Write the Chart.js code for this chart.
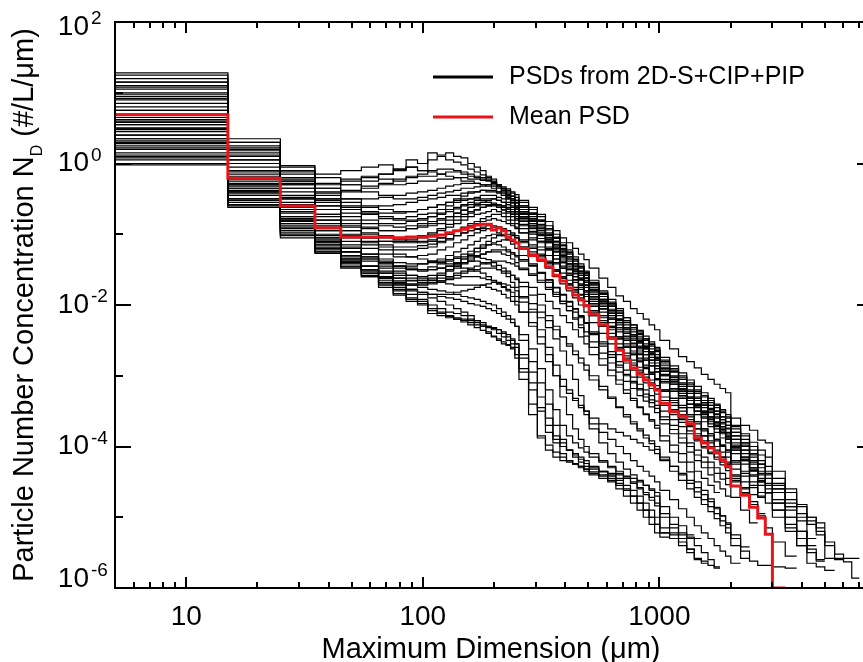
<!DOCTYPE html>
<html>
<head>
<meta charset="utf-8">
<script src="https://cdn.jsdelivr.net/npm/chart.js@4.4.1/dist/chart.umd.min.js"></script>
<style>
    html, body { margin: 0; padding: 0; background: #fff; overflow: hidden; }
    #wrap { width: 863px; height: 662px; overflow: hidden; }
    canvas { display: block; }
</style>
</head>
<body>
<div id="wrap"><canvas id="psdChart" width="880" height="662"></canvas></div>
<script>
// Bin edges of the composite 2D-S + CIP + PIP size distribution (µm)
const binEdges = [5, 15, 25, 35, 45, 55, 65, 75, 85, 95, 105, 115, 125, 135, 145, 155, 165, 175, 185, 195,
    205, 215, 225, 235, 245, 255, 280, 305, 330, 355, 380, 405, 430, 455, 480, 505, 555, 605, 655, 705,
    755, 805, 855, 905, 955, 1005, 1105, 1205, 1305, 1405, 1505, 1605, 1705, 1805, 1905, 2005, 2205, 2405, 2605, 2805,
    3005, 3405, 3805, 4205, 4605, 5005, 5505, 6005, 6505, 7005];

// log10 of N(D) in #/L/µm, one value per bin starting at the first bin
const meanPsdLog = [
    0.69, -0.21, -0.60, -0.91, -1.04, -1.04, -1.04, -1.05, -1.04, -1.04,
    -1.03, -1.01, -0.98, -0.95, -0.93, -0.90, -0.87, -0.86, -0.86, -0.94,
    -0.91, -0.95, -1.04, -1.08, -1.12, -1.20, -1.30, -1.36, -1.46, -1.58,
    -1.66, -1.76, -1.86, -1.93, -2.01, -2.13, -2.28, -2.47, -2.64, -2.78,
    -2.89, -2.98, -3.06, -3.13, -3.20, -3.39, -3.51, -3.57, -3.68, -3.88,
    -3.95, -4.02, -4.09, -4.19, -4.28, -4.56, -4.69, -4.86, -5.01, -5.24,
    -6.00];

const psdLog01 = [
    1.20, 0.30, -0.05, -0.15, -0.10, -0.05, -0.02, -0.08, -0.05, -0.10,
    -0.12, -0.15, -0.18, -0.20, -0.20, -0.22, -0.22, -0.24, -0.25, -0.27,
    -0.30, -0.33, -0.36, -0.40, -0.44, -0.52, -0.62, -0.72, -0.82, -0.95,
    -1.05, -1.12, -1.20, -1.28, -1.36, -1.48, -1.62, -1.75, -1.87, -1.95,
    -2.05, -2.12, -2.20, -2.28, -2.35, -2.50, -2.62, -2.73, -2.80, -2.89,
    -2.98, -3.05, -3.12, -3.18, -3.24, -3.60, -3.70, -3.77, -3.91, -3.95,
    -4.52, -4.80, -5.00, -5.00, -5.08, -5.58, -5.58, -5.58, -5.58];
const psdLog02 = [
    1.05, 0.20, -0.15, -0.30, -0.25, -0.20, -0.15, -0.10, -0.05, -0.10,
    0.15, 0.12, 0.15, 0.10, 0.08, 0.00, -0.05, -0.10, -0.18, -0.22,
    -0.30, -0.36, -0.45, -0.52, -0.60, -0.70, -0.80, -0.92, -1.05, -1.18,
    -1.30, -1.42, -1.52, -1.62, -1.72, -1.85, -2.00, -2.15, -2.28, -2.40,
    -2.50, -2.60, -2.70, -2.78, -2.86, -3.00, -3.12, -3.25, -3.35, -3.45,
    -3.55, -3.62, -3.70, -3.80, -3.88, -4.05, -4.20, -4.40, -4.55];
const psdLog03 = [
    0.95, 0.10, -0.25, -0.35, -0.30, -0.25, -0.15, -0.08, 0.05, 0.00,
    0.05, 0.10, 0.05, 0.02, -0.02, -0.08, -0.12, -0.16, -0.20, -0.25,
    -0.33, -0.40, -0.48, -0.56, -0.64, -0.75, -0.88, -1.00, -1.12, -1.25,
    -1.38, -1.50, -1.60, -1.72, -1.82, -1.98, -2.15, -2.30, -2.45, -2.55,
    -2.65, -2.75, -2.85, -2.95, -3.05, -3.22, -3.38, -3.50, -3.62, -3.75,
    -3.85, -3.95, -4.05, -4.15, -4.25, -4.45, -4.65];
const psdLog04 = [
    1.10, 0.15, -0.20, -0.45, -0.40, -0.35, -0.30, -0.30, -0.28, -0.25,
    -0.25, -0.22, -0.22, -0.20, -0.25, -0.25, -0.28, -0.30, -0.30, -0.32,
    -0.35, -0.38, -0.42, -0.46, -0.52, -0.60, -0.70, -0.80, -0.92, -1.05,
    -1.15, -1.25, -1.35, -1.45, -1.55, -1.70, -1.85, -2.00, -2.12, -2.25,
    -2.35, -2.45, -2.55, -2.62, -2.70, -2.85, -2.95, -3.05, -3.15, -3.25,
    -3.35, -3.42, -3.50, -3.58, -3.65, -3.80, -3.95, -4.10, -4.25, -4.40,
    -4.60, -4.85];
const psdLog05 = [
    1.25, 0.35, -0.03, -0.20, -0.30, -0.40, -0.45, -0.50, -0.50, -0.48,
    -0.45, -0.42, -0.40, -0.38, -0.35, -0.35, -0.33, -0.32, -0.30, -0.30,
    -0.32, -0.35, -0.38, -0.42, -0.48, -0.55, -0.65, -0.75, -0.88, -1.00,
    -1.12, -1.22, -1.32, -1.42, -1.52, -1.65, -1.80, -1.92, -2.05, -2.18,
    -2.28, -2.38, -2.48, -2.56, -2.64, -2.80, -2.92, -3.02, -3.12, -3.22,
    -3.30, -3.38, -3.45, -3.52, -3.60, -3.75, -3.90, -4.05, -4.20, -4.35,
    -4.60, -4.85, -5.05, -5.30];
const psdLog06 = [
    0.85, 0.05, -0.30, -0.55, -0.60, -0.62, -0.60, -0.58, -0.55, -0.52,
    -0.50, -0.48, -0.45, -0.45, -0.42, -0.40, -0.40, -0.38, -0.40, -0.40,
    -0.42, -0.45, -0.50, -0.55, -0.60, -0.68, -0.78, -0.88, -1.00, -1.12,
    -1.22, -1.32, -1.42, -1.52, -1.62, -1.78, -1.92, -2.08, -2.20, -2.32,
    -2.42, -2.52, -2.60, -2.68, -2.76, -2.92, -3.05, -3.15, -3.25, -3.35,
    -3.45, -3.52, -3.60, -3.68, -3.75, -3.90, -4.05, -4.20, -4.35];
const psdLog07 = [
    1.15, 0.25, -0.10, -0.40, -0.55, -0.70, -0.75, -0.78, -0.75, -0.72,
    -0.70, -0.65, -0.60, -0.55, -0.52, -0.50, -0.48, -0.45, -0.45, -0.45,
    -0.48, -0.50, -0.55, -0.60, -0.65, -0.72, -0.82, -0.92, -1.02, -1.15,
    -1.25, -1.35, -1.45, -1.55, -1.65, -1.80, -1.95, -2.12, -2.25, -2.38,
    -2.48, -2.58, -2.66, -2.74, -2.82, -2.98, -3.10, -3.20, -3.30, -3.40,
    -3.50, -3.58, -3.65, -3.72, -3.80, -3.95, -4.10, -4.25, -4.40, -4.55,
    -4.80];
const psdLog08 = [
    0.75, -0.10, -0.40, -0.60, -0.70, -0.80, -0.85, -0.85, -0.82, -0.80,
    -0.75, -0.70, -0.65, -0.62, -0.58, -0.55, -0.52, -0.50, -0.50, -0.50,
    -0.52, -0.55, -0.58, -0.62, -0.68, -0.75, -0.85, -0.95, -1.08, -1.20,
    -1.32, -1.42, -1.52, -1.62, -1.72, -1.88, -2.02, -2.18, -2.32, -2.45,
    -2.55, -2.65, -2.75, -2.82, -2.90, -3.05, -3.18, -3.28, -3.40, -3.50,
    -3.58, -3.65, -3.72, -3.80, -3.88, -4.02, -4.18, -4.32, -4.48];
const psdLog09 = [
    0.90, 0.00, -0.35, -0.65, -0.80, -0.90, -0.95, -0.95, -0.92, -0.90,
    -0.88, -0.85, -0.80, -0.75, -0.72, -0.68, -0.65, -0.62, -0.60, -0.58,
    -0.60, -0.62, -0.65, -0.70, -0.75, -0.82, -0.92, -1.02, -1.12, -1.25,
    -1.35, -1.45, -1.55, -1.65, -1.75, -1.90, -2.05, -2.20, -2.35, -2.48,
    -2.58, -2.68, -2.78, -2.86, -2.95, -3.10, -3.22, -3.32, -3.45, -3.55,
    -3.65, -3.72, -3.80, -3.88, -3.95, -4.10, -4.25, -4.42];
const psdLog10 = [
    0.55, -0.20, -0.55, -0.80, -0.95, -1.05, -1.10, -1.10, -1.08, -1.05,
    -1.00, -0.95, -0.90, -0.85, -0.80, -0.75, -0.72, -0.70, -0.68, -0.65,
    -0.68, -0.70, -0.75, -0.80, -0.85, -0.92, -1.00, -1.10, -1.22, -1.35,
    -1.45, -1.55, -1.65, -1.75, -1.85, -2.00, -2.15, -2.30, -2.45, -2.58,
    -2.68, -2.78, -2.88, -2.96, -3.04, -3.20, -3.32, -3.42, -3.55, -3.65,
    -3.75, -3.82, -3.90, -3.98, -4.05, -4.22, -4.38, -4.55, -4.70];
const psdLog11 = [
    0.65, -0.15, -0.50, -0.75, -0.90, -1.00, -1.05, -1.08, -1.10, -1.12,
    -1.10, -1.05, -1.00, -0.95, -0.90, -0.85, -0.82, -0.78, -0.75, -0.72,
    -0.72, -0.75, -0.80, -0.85, -0.90, -0.98, -1.08, -1.18, -1.30, -1.42,
    -1.55, -1.65, -1.75, -1.85, -1.95, -2.10, -2.25, -2.40, -2.55, -2.68,
    -2.78, -2.88, -2.98, -3.06, -3.14, -3.30, -3.42, -3.55, -3.65, -3.75,
    -3.85, -3.92, -4.00, -4.08, -4.15, -4.32, -4.50, -4.68];
const psdLog12 = [
    0.40, -0.30, -0.70, -0.95, -1.10, -1.20, -1.28, -1.32, -1.32, -1.30,
    -1.28, -1.22, -1.18, -1.12, -1.08, -1.02, -0.98, -0.95, -0.92, -0.90,
    -0.90, -0.92, -0.95, -1.00, -1.05, -1.12, -1.20, -1.30, -1.40, -1.52,
    -1.62, -1.72, -1.82, -1.92, -2.02, -2.15, -2.30, -2.45, -2.60, -2.72,
    -2.82, -2.92, -3.02, -3.10, -3.18, -3.35, -3.48, -3.60, -3.70, -3.82,
    -3.92, -4.00, -4.08, -4.15, -4.22, -4.40, -4.58];
const psdLog13 = [
    0.30, -0.40, -0.80, -1.05, -1.20, -1.32, -1.40, -1.45, -1.45, -1.42,
    -1.38, -1.35, -1.30, -1.25, -1.20, -1.15, -1.10, -1.05, -1.02, -1.00,
    -1.00, -1.02, -1.05, -1.08, -1.12, -1.18, -1.28, -1.38, -1.48, -1.60,
    -1.70, -1.80, -1.90, -2.00, -2.10, -2.25, -2.40, -2.55, -2.70, -2.82,
    -2.92, -3.02, -3.10, -3.18, -3.26, -3.42, -3.55, -3.66, -3.78, -3.90,
    -4.00, -4.08, -4.15, -4.22, -4.30, -4.48];
const psdLog14 = [
    0.20, -0.45, -0.85, -1.12, -1.30, -1.45, -1.55, -1.62, -1.65, -1.65,
    -1.62, -1.58, -1.52, -1.48, -1.42, -1.38, -1.32, -1.28, -1.25, -1.22,
    -1.22, -1.22, -1.25, -1.28, -1.32, -1.38, -1.45, -1.55, -1.65, -1.75,
    -1.85, -1.95, -2.05, -2.15, -2.25, -2.40, -2.55, -2.70, -2.85, -2.98,
    -3.08, -3.18, -3.26, -3.34, -3.42, -3.58, -3.70, -3.82, -3.95, -4.05,
    -4.15, -4.22, -4.30, -4.38, -4.45];
const psdLog15 = [
    0.45, -0.35, -0.75, -1.10, -1.35, -1.50, -1.62, -1.70, -1.72, -1.70,
    -1.65, -1.58, -1.50, -1.42, -1.35, -1.28, -1.20, -1.15, -1.10, -1.05,
    -1.02, -1.00, -1.00, -1.02, -1.05, -1.10, -1.18, -1.28, -1.38, -1.50,
    -1.60, -1.70, -1.80, -1.90, -2.00, -2.15, -2.30, -2.48, -2.62, -2.75,
    -2.85, -2.95, -3.05, -3.12, -3.20, -3.38, -3.50, -3.62, -3.72, -3.85,
    -3.95, -4.02, -4.10, -4.18, -4.25, -4.42, -4.60, -4.78, -4.95];
const psdLog16 = [
    0.10, -0.55, -1.00, -1.25, -1.45, -1.58, -1.70, -1.80, -1.90, -1.95,
    -2.05, -2.10, -2.15, -2.18, -2.20, -2.22, -2.25, -2.28, -2.30, -2.32,
    -2.35, -2.40, -2.45, -2.50, -2.55, -2.95, -3.40, -3.88, -4.05, -4.15,
    -4.20, -4.22, -4.25, -4.30, -4.35, -4.40, -4.45, -4.50, -4.60, -4.70,
    -4.80, -4.90, -5.00, -5.10, -5.22, -5.28];
const psdLog17 = [
    0.25, -0.50, -0.95, -1.20, -1.40, -1.55, -1.68, -1.78, -1.85, -1.92,
    -2.00, -2.05, -2.10, -2.12, -2.15, -2.20, -2.22, -2.25, -2.30, -2.35,
    -2.40, -2.45, -2.50, -2.55, -2.60, -2.70, -2.95, -3.30, -3.60, -3.90,
    -4.10, -4.20, -4.24, -4.28, -4.32, -4.38, -4.42, -4.48, -4.55, -4.62,
    -4.70, -4.80, -4.90, -5.00, -5.10, -5.22, -5.30, -5.40, -5.50];
const psdLog18 = [
    0.50, -0.30, -0.80, -1.15, -1.40, -1.55, -1.65, -1.75, -1.80, -1.85,
    -1.90, -1.95, -2.00, -2.05, -2.10, -2.15, -2.22, -2.30, -2.38, -2.45,
    -2.50, -2.55, -2.57, -2.60, -2.70, -2.90, -3.20, -3.50, -3.80, -3.95,
    -4.00, -4.05, -4.10, -4.15, -4.20, -4.28, -4.35, -4.40, -4.45, -4.55,
    -4.62, -4.70, -4.80, -4.90, -5.00, -5.15, -5.25, -5.35, -5.45, -5.60,
    -5.65];
const psdLog19 = [
    0.35, -0.40, -0.85, -1.10, -1.25, -1.35, -1.45, -1.52, -1.58, -1.62,
    -1.65, -1.68, -1.70, -1.72, -1.72, -1.72, -1.72, -1.72, -1.75, -1.78,
    -1.80, -1.85, -1.90, -1.95, -2.00, -2.10, -2.25, -2.45, -2.70, -3.00,
    -3.30, -3.55, -3.75, -3.90, -4.00, -4.10, -4.20, -4.28, -4.35, -4.42,
    -4.50, -4.58, -4.65, -4.72, -4.80, -4.95, -5.10, -5.22, -5.30, -5.40,
    -5.50, -5.60, -5.70];
const psdLog20 = [
    0.60, -0.25, -0.65, -0.95, -1.15, -1.28, -1.38, -1.45, -1.50, -1.52,
    -1.50, -1.48, -1.45, -1.42, -1.40, -1.38, -1.38, -1.40, -1.42, -1.45,
    -1.50, -1.55, -1.60, -1.68, -1.75, -1.90, -2.10, -2.35, -2.60, -2.85,
    -3.05, -3.20, -3.32, -3.42, -3.50, -3.60, -3.68, -3.75, -3.80, -3.85,
    -3.90, -3.95, -4.00, -4.05, -4.10, -4.18, -4.28, -4.38, -4.48, -4.58,
    -4.68, -4.78, -4.88, -4.98, -5.08, -5.25, -5.42];
const psdLog21 = [
    0.15, -0.50, -0.90, -1.20, -1.38, -1.50, -1.60, -1.68, -1.72, -1.75,
    -1.78, -1.80, -1.82, -1.85, -1.88, -1.90, -1.92, -1.95, -1.98, -2.00,
    -2.05, -2.10, -2.15, -2.20, -2.30, -2.50, -2.80, -3.10, -3.40, -3.70,
    -3.90, -4.05, -4.15, -4.22, -4.28, -4.32, -4.35, -4.38, -4.40, -4.43,
    -4.45, -4.50, -4.55, -4.60, -4.65, -5.22, -5.22, -5.25, -5.28, -5.30];
const psdLog22 = [
    0.70, -0.10, -0.50, -0.80, -0.95, -1.05, -1.10, -1.12, -1.12, -1.10,
    -1.08, -1.05, -1.00, -0.96, -0.92, -0.88, -0.85, -0.82, -0.80, -0.78,
    -0.80, -0.82, -0.85, -0.88, -0.92, -0.98, -1.05, -1.12, -1.20, -1.30,
    -1.40, -1.48, -1.56, -1.64, -1.72, -1.85, -1.98, -2.12, -2.25, -2.35,
    -2.45, -2.52, -2.60, -2.68, -2.75, -2.90, -3.02, -3.12, -3.22, -3.32,
    -3.40, -3.48, -3.55, -3.62, -3.70, -3.85, -3.98, -4.12, -4.25, -4.38,
    -4.55, -4.75, -4.95, -5.10, -5.25, -5.40, -5.60];
const psdLog23 = [
    1.00, 0.10, -0.30, -0.60, -0.75, -0.85, -0.88, -0.90, -0.88, -0.85,
    -0.82, -0.78, -0.75, -0.70, -0.66, -0.62, -0.58, -0.55, -0.52, -0.50,
    -0.52, -0.55, -0.58, -0.62, -0.68, -0.76, -0.85, -0.95, -1.05, -1.15,
    -1.25, -1.35, -1.45, -1.55, -1.62, -1.75, -1.88, -2.00, -2.12, -2.22,
    -2.32, -2.40, -2.48, -2.55, -2.62, -2.78, -2.90, -3.00, -3.10, -3.20,
    -3.28, -3.35, -3.42, -3.50, -3.58, -3.72, -3.85, -4.00, -4.12, -4.28,
    -4.45, -4.65, -4.85, -5.05, -5.20, -5.35, -5.52, -5.63, -5.86];
const psdLog24 = [
    0.05, -0.60, -0.95, -1.20, -1.35, -1.45, -1.52, -1.58, -1.62, -1.65,
    -1.65, -1.62, -1.60, -1.55, -1.52, -1.48, -1.45, -1.42, -1.40, -1.38,
    -1.38, -1.38, -1.40, -1.42, -1.45, -1.50, -1.58, -1.68, -1.78, -1.88,
    -1.98, -2.08, -2.18, -2.28, -2.38, -2.52, -2.68, -2.82, -2.95, -3.08,
    -3.18, -3.28, -3.36, -3.44, -3.52, -3.68, -3.82, -3.95, -4.08, -4.20,
    -4.30, -4.40, -4.50, -4.60, -4.70];
const psdLog25 = [
    0.80, 0.00, -0.35, -0.50, -0.50, -0.50, -0.48, -0.45, -0.42, -0.40,
    -0.38, -0.35, -0.32, -0.30, -0.28, -0.28, -0.28, -0.30, -0.32, -0.35,
    -0.40, -0.45, -0.50, -0.55, -0.62, -0.70, -0.80, -0.90, -1.00, -1.10,
    -1.20, -1.28, -1.38, -1.48, -1.58, -1.72, -1.88, -2.02, -2.15, -2.28,
    -2.38, -2.48, -2.58, -2.66, -2.74, -2.90, -3.02, -3.12, -3.22, -3.32,
    -3.42, -3.50, -3.58, -3.66, -3.74, -3.90, -4.05, -4.22, -4.38, -4.52,
    -4.75, -5.00, -5.20, -5.45, -5.60];
const psdLog26 = [
    0.55, -0.20, -0.60, -0.90, -1.05, -1.15, -1.22, -1.28, -1.32, -1.35,
    -1.38, -1.40, -1.42, -1.45, -1.48, -1.50, -1.52, -1.55, -1.60, -1.65,
    -1.70, -1.75, -1.80, -1.88, -1.95, -2.10, -2.30, -2.55, -2.80, -3.00,
    -3.15, -3.25, -3.35, -3.45, -3.55, -3.68, -3.80, -3.90, -4.00, -4.10,
    -4.20, -4.28, -4.35, -4.42, -4.50, -4.62, -4.75, -4.88, -5.00, -5.12,
    -5.22, -5.30, -5.40, -5.48, -5.55, -5.65];
const psdLog27 = [
    -0.02, -0.62, -1.05, -1.27, -1.48, -1.60, -1.75, -1.86, -1.95, -2.00,
    -2.12, -2.15, -2.18, -2.20, -2.22, -2.25, -2.28, -2.30, -2.32, -2.33,
    -2.35, -2.38, -2.42, -2.48, -2.55, -2.75, -3.10, -3.45, -3.70, -3.85,
    -3.95, -4.05, -4.12, -4.18, -4.24, -4.30, -4.36, -4.42, -4.48];
const psdLog28 = [
    1.28, 0.30, -0.10, -0.35, -0.50, -0.60, -0.65, -0.68, -0.68, -0.65,
    -0.62, -0.58, -0.55, -0.52, -0.50, -0.50, -0.50, -0.52, -0.55, -0.58,
    -0.62, -0.66, -0.70, -0.75, -0.80, -0.88, -0.98, -1.10, -1.22, -1.35,
    -1.48, -1.58, -1.68, -1.78, -1.88, -2.02, -2.18, -2.32, -2.48, -2.60,
    -2.70, -2.80, -2.90, -2.98, -3.06, -3.22, -3.35, -3.45, -3.58, -3.68,
    -3.78, -3.85, -3.92, -4.00, -4.08, -4.25, -4.42, -4.58, -4.72];
const psdLog29 = [
    0.50, -0.28, -0.68, -1.00, -1.20, -1.32, -1.40, -1.45, -1.48, -1.50,
    -1.50, -1.48, -1.45, -1.40, -1.35, -1.30, -1.25, -1.20, -1.15, -1.12,
    -1.10, -1.08, -1.08, -1.10, -1.12, -1.18, -1.25, -1.32, -1.42, -1.52,
    -1.62, -1.70, -1.78, -1.86, -1.95, -2.08, -2.22, -2.35, -2.48, -2.60,
    -2.70, -2.80, -2.88, -2.96, -3.04, -3.20, -3.32, -3.45, -3.55, -3.65,
    -3.75, -3.82, -3.90, -3.98, -4.05, -4.20, -4.35, -4.50, -4.65, -4.80,
    -5.00, -5.20, -5.40, -5.65, -5.70, -5.75];
const psdLog30 = [
    0.00, -0.58, -0.98, -1.22, -1.42, -1.52, -1.60, -1.66, -1.70, -1.72,
    -1.70, -1.66, -1.62, -1.58, -1.55, -1.52, -1.50, -1.48, -1.48, -1.48,
    -1.50, -1.52, -1.55, -1.58, -1.62, -1.68, -1.75, -1.85, -1.95, -2.05,
    -2.15, -2.25, -2.35, -2.45, -2.55, -2.70, -2.85, -3.00, -3.12, -3.25,
    -3.35, -3.45, -3.55, -3.62, -3.70, -3.85, -3.98, -4.10, -4.22, -4.35,
    -4.45, -4.55, -4.65];
const psdLog31 = [
    1.15, 0.22, -0.12, -0.28, -0.22, -0.18, -0.22, -0.25, -0.20, -0.18,
    -0.18, -0.15, -0.12, -0.12, -0.15, -0.18, -0.20, -0.22, -0.24, -0.28,
    -0.32, -0.38, -0.44, -0.50, -0.56, -0.65, -0.75, -0.86, -0.98, -1.10,
    -1.22, -1.32, -1.42, -1.52, -1.62, -1.78, -1.92, -2.06, -2.20, -2.32,
    -2.42, -2.52, -2.62, -2.70, -2.78, -2.94, -3.06, -3.18, -3.30, -3.40,
    -3.50, -3.58, -3.66, -3.74, -3.82, -3.98, -4.15, -4.30];
const psdLog32 = [
    0.35, -0.35, -0.75, -1.05, -1.25, -1.38, -1.48, -1.55, -1.58, -1.60,
    -1.58, -1.55, -1.50, -1.45, -1.40, -1.35, -1.30, -1.28, -1.25, -1.25,
    -1.25, -1.28, -1.30, -1.35, -1.40, -1.48, -1.56, -1.65, -1.75, -1.85,
    -1.95, -2.02, -2.10, -2.18, -2.26, -2.38, -2.52, -2.66, -2.80, -2.92,
    -3.02, -3.12, -3.20, -3.28, -3.36, -3.50, -3.62, -3.72, -3.82, -3.92,
    -4.02, -4.10, -4.18, -4.26, -4.34, -4.50, -4.66, -4.82, -4.98, -5.15,
    -5.35, -5.55];
const psdLog33 = [
    0.48, -0.22, -0.62, -0.88, -1.02, -1.12, -1.18, -1.22, -1.22, -1.20,
    -1.18, -1.12, -1.08, -1.02, -0.98, -0.95, -0.92, -0.90, -0.88, -0.88,
    -0.90, -0.92, -0.95, -0.98, -1.02, -1.08, -1.15, -1.22, -1.30, -1.40,
    -1.48, -1.56, -1.64, -1.72, -1.80, -1.92, -2.06, -2.20, -2.32, -2.44,
    -2.54, -2.62, -2.70, -2.78, -2.86, -3.00, -3.12, -3.22, -3.32, -3.42,
    -3.52, -3.60, -3.68, -3.76, -3.84, -4.00, -4.15, -4.30, -4.45, -4.60,
    -4.80, -5.00, -5.20, -5.40];
const psdLog34 = [
    0.12, -0.52, -0.92, -1.18, -1.38, -1.50, -1.62, -1.70, -1.78, -1.82,
    -1.85, -1.85, -1.85, -1.82, -1.80, -1.78, -1.75, -1.72, -1.70, -1.68,
    -1.68, -1.70, -1.72, -1.75, -1.80, -1.88, -1.98, -2.10, -2.22, -2.35,
    -2.45, -2.55, -2.65, -2.75, -2.85, -3.00, -3.15, -3.30, -3.45, -3.58,
    -3.68, -3.78, -3.88, -3.96, -4.04, -4.20, -4.35, -4.48, -4.60, -4.72,
    -4.82, -4.92, -5.02, -5.12, -5.22, -5.40, -5.58];
const psdLog35 = [
    1.08, 0.18, -0.22, -0.50, -0.65, -0.72, -0.78, -0.80, -0.80, -0.78,
    -0.75, -0.72, -0.68, -0.64, -0.60, -0.58, -0.56, -0.55, -0.55, -0.56,
    -0.58, -0.60, -0.64, -0.68, -0.72, -0.80, -0.90, -1.00, -1.10, -1.22,
    -1.32, -1.42, -1.50, -1.58, -1.66, -1.80, -1.94, -2.08, -2.20, -2.32,
    -2.42, -2.50, -2.58, -2.66, -2.74, -2.88, -3.00, -3.10, -3.20, -3.30,
    -3.38, -3.46, -3.54, -3.62, -3.70, -3.85, -4.00, -4.15, -4.30, -4.45,
    -4.65, -4.90];
const psdLog36 = [
    0.22, -0.45, -0.88, -1.15, -1.32, -1.45, -1.55, -1.62, -1.66, -1.68,
    -1.68, -1.66, -1.64, -1.62, -1.60, -1.60, -1.60, -1.62, -1.64, -1.66,
    -1.70, -1.74, -1.78, -1.82, -1.88, -1.96, -2.06, -2.18, -2.32, -2.48,
    -2.65, -2.85, -3.05, -3.28, -3.50, -3.75, -3.95, -4.10, -4.22, -4.32,
    -4.40, -4.48, -4.55, -4.62, -4.70, -4.85, -5.00, -5.12, -5.25];
const psdLog37 = [
    0.62, -0.12, -0.48, -0.72, -0.85, -0.92, -0.95, -0.95, -0.92, -0.88,
    -0.85, -0.80, -0.75, -0.70, -0.66, -0.62, -0.60, -0.58, -0.58, -0.60,
    -0.62, -0.65, -0.68, -0.72, -0.78, -0.86, -0.96, -1.06, -1.18, -1.30,
    -1.40, -1.50, -1.60, -1.70, -1.80, -1.95, -2.10, -2.25, -2.38, -2.50,
    -2.60, -2.70, -2.78, -2.86, -2.94, -3.08, -3.20, -3.30, -3.40, -3.50,
    -3.60, -3.68, -3.75, -3.82, -3.90, -4.05, -4.20, -4.35, -4.50, -4.65,
    -4.90, -5.15, -5.40];
const psdLog38 = [
    0.28, -0.42, -0.82, -1.08, -1.25, -1.35, -1.42, -1.48, -1.50, -1.50,
    -1.46, -1.42, -1.38, -1.32, -1.28, -1.24, -1.20, -1.18, -1.15, -1.14,
    -1.15, -1.18, -1.22, -1.26, -1.30, -1.36, -1.44, -1.54, -1.64, -1.76,
    -1.86, -1.96, -2.06, -2.16, -2.26, -2.42, -2.58, -2.74, -2.88, -3.00,
    -3.10, -3.20, -3.30, -3.38, -3.46, -3.62, -3.76, -3.88, -4.00, -4.12,
    -4.22, -4.30, -4.38, -4.46, -4.54, -4.72, -4.90, -5.08];
const psdLog39 = [
    0.92, 0.05, -0.28, -0.52, -0.62, -0.68, -0.70, -0.70, -0.68, -0.65,
    -0.62, -0.58, -0.55, -0.50, -0.46, -0.42, -0.40, -0.38, -0.38, -0.38,
    -0.40, -0.42, -0.46, -0.50, -0.55, -0.62, -0.72, -0.82, -0.94, -1.06,
    -1.16, -1.26, -1.36, -1.46, -1.54, -1.68, -1.82, -1.96, -2.08, -2.18,
    -2.28, -2.36, -2.44, -2.52, -2.60, -2.74, -2.86, -2.96, -3.06, -3.15,
    -3.24, -3.32, -3.40, -3.48, -3.55, -3.70, -3.82, -3.94, -4.05, -4.15,
    -4.35, -4.60, -4.82, -5.00, -5.15];
const psdLog40 = [
    0.40, -0.32, -0.78, -1.12, -1.35, -1.50, -1.62, -1.72, -1.78, -1.82,
    -1.85, -1.88, -1.90, -1.92, -1.95, -1.98, -2.00, -2.02, -2.05, -2.08,
    -2.12, -2.16, -2.20, -2.25, -2.30, -2.42, -2.62, -2.90, -3.20, -3.48,
    -3.70, -3.85, -3.95, -4.02, -4.08, -4.15, -4.22, -4.30, -4.38, -4.45,
    -4.52, -4.60, -4.68, -4.76, -4.84, -5.00, -5.15, -5.30, -5.45, -5.58,
    -5.62, -5.68, -5.72];
const psdLog41 = [
    0.58, -0.18, -0.58, -0.85, -1.00, -1.10, -1.15, -1.18, -1.18, -1.16,
    -1.14, -1.10, -1.06, -1.02, -0.98, -0.95, -0.93, -0.92, -0.92, -0.94,
    -0.98, -1.02, -1.08, -1.14, -1.20, -1.30, -1.42, -1.55, -1.68, -1.82,
    -1.95, -2.08, -2.20, -2.32, -2.44, -2.60, -2.76, -2.92, -3.06, -3.20,
    -3.32, -3.44, -3.54, -3.64, -3.74, -3.92, -4.08, -4.22, -4.36, -4.50,
    -4.62, -4.74, -4.86, -4.98, -5.10, -5.30, -5.48, -5.62, -5.68, -5.68,
    -5.70, -5.72];
const psdLog42 = [
    0.32, -0.38, -0.78, -1.02, -1.18, -1.28, -1.35, -1.40, -1.42, -1.42,
    -1.40, -1.38, -1.36, -1.34, -1.32, -1.32, -1.32, -1.34, -1.36, -1.40,
    -1.44, -1.48, -1.52, -1.58, -1.64, -1.74, -1.86, -2.00, -2.15, -2.30,
    -2.45, -2.58, -2.70, -2.82, -2.92, -3.06, -3.20, -3.32, -3.44, -3.55,
    -3.65, -3.75, -3.84, -3.92, -4.00, -4.15, -4.28, -4.40, -4.52, -4.64,
    -4.75, -4.85, -4.95, -5.05, -5.15];
const psdLog43 = [
    0.98, 0.12, -0.25, -0.42, -0.38, -0.32, -0.28, -0.22, -0.18, -0.15,
    -0.10, -0.08, -0.08, -0.10, -0.12, -0.15, -0.18, -0.20, -0.22, -0.26,
    -0.30, -0.35, -0.40, -0.46, -0.52, -0.60, -0.70, -0.80, -0.92, -1.04,
    -1.16, -1.26, -1.36, -1.46, -1.56, -1.70, -1.84, -1.98, -2.10, -2.22,
    -2.32, -2.42, -2.50, -2.58, -2.66, -2.82, -2.94, -3.05, -3.15, -3.25,
    -3.35, -3.42, -3.50, -3.58, -3.65, -3.80, -3.95, -4.10];
const psdLog44 = [
    0.08, -0.58, -1.02, -1.25, -1.46, -1.60, -1.72, -1.84, -1.92, -1.98,
    -2.08, -2.12, -2.16, -2.20, -2.24, -2.28, -2.32, -2.36, -2.40, -2.44,
    -2.48, -2.52, -2.56, -2.62, -2.75, -3.05, -3.55, -3.85, -3.98, -4.08,
    -4.15, -4.20, -4.25, -4.28, -4.32, -4.36, -4.40, -4.45, -4.52, -4.60,
    -4.70, -4.80, -4.90, -5.00, -5.10];
const psdLog45 = [
    0.75, -0.05, -0.45, -0.72, -0.88, -0.98, -1.02, -1.05, -1.05, -1.02,
    -0.98, -0.92, -0.86, -0.80, -0.75, -0.70, -0.66, -0.62, -0.60, -0.58,
    -0.58, -0.60, -0.62, -0.65, -0.70, -0.78, -0.88, -0.98, -1.08, -1.18,
    -1.28, -1.38, -1.48, -1.58, -1.68, -1.82, -1.96, -2.10, -2.22, -2.34,
    -2.44, -2.54, -2.62, -2.70, -2.78, -2.94, -3.08, -3.20, -3.32, -3.44,
    -3.54, -3.62, -3.70, -3.78, -3.86, -4.02, -4.18, -4.34, -4.50, -4.66,
    -4.90, -5.10, -5.30, -5.50, -5.62];

const psdLogs = [psdLog01, psdLog02, psdLog03, psdLog04, psdLog05, psdLog06, psdLog07, psdLog08,
    psdLog09, psdLog10, psdLog11, psdLog12, psdLog13, psdLog14, psdLog15, psdLog16, psdLog17,
    psdLog18, psdLog19, psdLog20, psdLog21, psdLog22, psdLog23, psdLog24, psdLog25, psdLog26,
    psdLog27, psdLog28, psdLog29, psdLog30, psdLog31, psdLog32, psdLog33, psdLog34, psdLog35,
    psdLog36, psdLog37, psdLog38, psdLog39, psdLog40, psdLog41, psdLog42, psdLog43, psdLog44,
    psdLog45];

// Axis ticks
const xMajorTicks = [10, 100, 1000];
const xMinorTicks = [6, 7, 8, 9, 20, 30, 40, 50, 60, 70, 80, 90,
    200, 300, 400, 500, 600, 700, 800, 900, 2000, 3000, 4000, 5000, 6000, 7000];
const yMajorExps = [2, 0, -2, -4, -6];
const yMinorExps = [1, -1, -3, -5];

const legendLabels = ['PSDs from 2D-S+CIP+PIP', 'Mean PSD'];
const xTitle = 'Maximum Dimension (\u03bcm)';

const fontName = '"Liberation Sans", Arial, Helvetica, sans-serif';
const rojo = '#e8141a';

// turns per-bin log values into step points (one extra point closes the last bin)
function pasosPsd(valores) {
    const puntos = valores.map((v, i) => ({ x: binEdges[i], y: Math.pow(10, v) }));
    puntos.push({ x: binEdges[valores.length], y: Math.pow(10, valores[valores.length - 1]) });
    return puntos;
}

const ejesPlugin = {
    id: 'ejes',
    afterDatasetsDraw(chart) {
        const { ctx, chartArea: a, scales: { x, y } } = chart;
        ctx.save();
        ctx.strokeStyle = '#000';
        ctx.fillStyle = '#000';
        ctx.lineWidth = 2;
        ctx.strokeRect(a.left, a.top, a.right - a.left, a.bottom - a.top);

        const linea = (x1, y1, x2, y2) => {
            ctx.beginPath();
            ctx.moveTo(x1, y1);
            ctx.lineTo(x2, y2);
            ctx.stroke();
        };
        const tickX = (v, len) => {
            const px = Math.round(x.getPixelForValue(v));
            linea(px, a.bottom, px, a.bottom - len);
            linea(px, a.top, px, a.top + len);
        };
        const tickY = (v, len) => {
            const py = Math.round(y.getPixelForValue(v));
            linea(a.left, py, a.left + len, py);
            linea(a.right, py, a.right - len, py);
        };
        xMajorTicks.forEach(v => tickX(v, 11));
        xMinorTicks.forEach(v => tickX(v, 6));
        yMajorExps.forEach(e => tickY(Math.pow(10, e), 16));
        yMinorExps.forEach(e => tickY(Math.pow(10, e), 8));

        // x tick labels
        ctx.font = '28px ' + fontName;
        ctx.textAlign = 'center';
        ctx.textBaseline = 'middle';
        xMajorTicks.forEach(v => {
            ctx.fillText(String(v), x.getPixelForValue(v), a.bottom + 29);
        });

        // y tick labels 10^n
        yMajorExps.forEach(e => {
            let py = y.getPixelForValue(Math.pow(10, e));
            py = Math.min(Math.max(py, a.top + 5), a.bottom - 9);
            ctx.font = '28px ' + fontName;
            ctx.textAlign = 'right';
            ctx.textBaseline = 'middle';
            ctx.fillText('10', a.left - 26, py);
            ctx.font = '19px ' + fontName;
            ctx.textAlign = 'left';
            ctx.textBaseline = 'alphabetic';
            ctx.fillText(String(e), a.left - 24, py - 3);
        });

        // x title
        ctx.font = '29px ' + fontName;
        ctx.textAlign = 'center';
        ctx.textBaseline = 'alphabetic';
        ctx.fillText(xTitle, (a.left + a.right) / 2 - 3, 658);

        // y title with subscript D
        const parte1 = 'Particle Number Concentration N';
        const parte2 = 'D';
        const parte3 = ' (#/L/\u03bcm)';
        ctx.font = '29px ' + fontName;
        const w1 = ctx.measureText(parte1).width;
        const w3 = ctx.measureText(parte3).width;
        ctx.font = '16px ' + fontName;
        const w2 = ctx.measureText(parte2).width;
        const total = w1 + w2 + w3;
        ctx.translate(33, (a.top + a.bottom) / 2);
        ctx.rotate(-Math.PI / 2);
        ctx.textAlign = 'left';
        ctx.font = '29px ' + fontName;
        ctx.fillText(parte1, -total / 2, 0);
        ctx.font = '16px ' + fontName;
        ctx.fillText(parte2, -total / 2 + w1, 9);
        ctx.font = '29px ' + fontName;
        ctx.fillText(parte3, -total / 2 + w1 + w2, 0);
        ctx.restore();

        // legend
        ctx.save();
        ctx.lineWidth = 3;
        ctx.font = '25px ' + fontName;
        ctx.textAlign = 'left';
        ctx.textBaseline = 'middle';
        [['#000', 77], [rojo, 117]].forEach(([color, ly], i) => {
            ctx.strokeStyle = color;
            ctx.beginPath();
            ctx.moveTo(433, ly);
            ctx.lineTo(493, ly);
            ctx.stroke();
            ctx.fillStyle = '#000';
            ctx.fillText(legendLabels[i], 509, ly);
        });
        ctx.restore();
    }
};

function mostrarGraficoPsd() {
    const ctx = document.getElementById('psdChart').getContext('2d');
    const datasets = [{
        label: 'Mean PSD',
        data: pasosPsd(meanPsdLog),
        borderColor: rojo,
        borderWidth: 3,
        stepped: 'before',
        pointRadius: 0
    }];
    psdLogs.forEach((valores, i) => {
        datasets.push({
            label: 'PSD ' + (i + 1),
            data: pasosPsd(valores),
            borderColor: '#000',
            borderWidth: 1.2,
            stepped: 'before',
            pointRadius: 0
        });
    });

    new Chart(ctx, {
        type: 'line',
        data: { datasets },
        options: {
            responsive: false,
            animation: false,
            devicePixelRatio: 1,
            layout: { padding: { left: 115, top: 22, right: 7, bottom: 74 } },
            scales: {
                x: { type: 'logarithmic', min: 5, max: 8000, display: false },
                y: { type: 'logarithmic', min: 1e-6, max: 100, display: false }
            },
            plugins: {
                legend: { display: false },
                tooltip: { enabled: false }
            }
        },
        plugins: [ejesPlugin]
    });
}

mostrarGraficoPsd();
</script>
</body>
</html>
